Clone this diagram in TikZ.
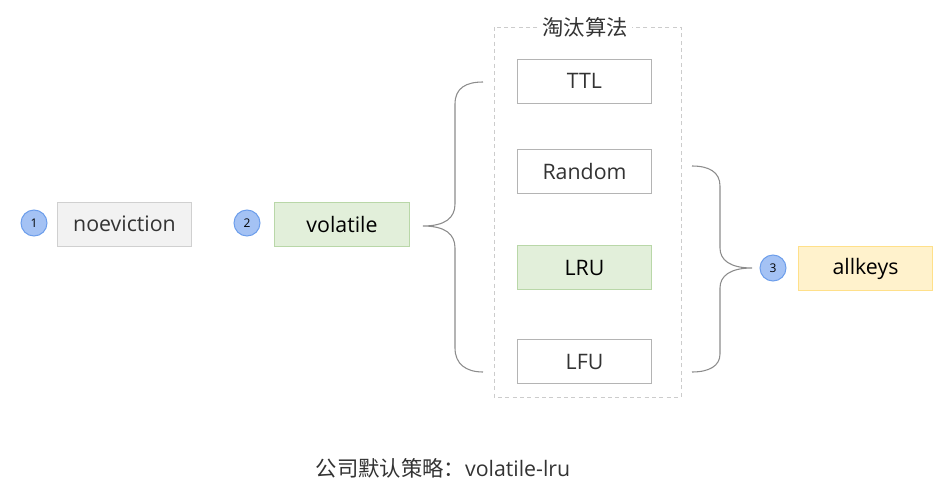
\documentclass[tikz,border=0pt]{standalone}
\usepackage{fontspec}
\setmainfont{Open Sans}
\newfontfamily\cjk{Noto Sans CJK SC}
\definecolor{txt}{HTML}{333333}
\definecolor{circfill}{HTML}{A4C2F4}
\definecolor{circdraw}{HTML}{6D9EEB}
\definecolor{grayfill}{HTML}{F2F2F2}
\definecolor{graydraw}{HTML}{D0D0D0}
\definecolor{greenfill}{HTML}{E2EFDA}
\definecolor{greendraw}{HTML}{B9D7A8}
\definecolor{yellowfill}{HTML}{FFF2CC}
\definecolor{yellowdraw}{HTML}{FFE08A}
\definecolor{boxdraw}{HTML}{B4B4B4}
\definecolor{bracecol}{HTML}{8C8C8C}
\definecolor{dashcol}{HTML}{CCCCCC}
\begin{document}
\begin{tikzpicture}[x=0.75pt,y=-0.75pt,
  numcirc/.style={circle,draw=circdraw,fill=circfill,line width=0.75pt,minimum size=19.5pt,inner sep=0pt,font=\fontsize{9}{10}\selectfont,text=black},
  algbox/.style={rectangle,draw=boxdraw,fill=white,line width=0.75pt,minimum width=101pt,minimum height=33pt,inner sep=0pt,font=\fontsize{16}{18}\selectfont,text=txt},
  graybox/.style={algbox,draw=graydraw,fill=grayfill},
  greenbox/.style={algbox,draw=greendraw,fill=greenfill,text=black},
  yellowbox/.style={algbox,draw=yellowdraw,fill=yellowfill,text=black},
  bracestyle/.style={draw=bracecol,line width=0.8pt}]
\useasboundingbox (0,0) rectangle (947,500);
% container
\draw[dashcol,dashed,dash pattern=on 3pt off 2.5pt,line width=0.75pt] (494,27) rectangle (681,397);
\node[fill=white,inner xsep=3pt,inner ysep=0pt,font=\cjk\fontsize{16}{18}\selectfont,text=txt] (title) at (585,27) {淘汰算法};
% left nodes
\node[numcirc] (c1) at (34,223) {1};
\node[graybox] (noev) at (124.5,224) {noeviction};
\node[numcirc] (c2) at (247,223) {2};
\node[greenbox] (vol) at (342,224) {volatile};
% algorithm boxes
\node[algbox] (ttl) at (584.5,81) {TTL};
\node[algbox] (rand) at (584.5,171.5) {Random};
\node[greenbox] (lru) at (584.5,267.5) {LRU};
\node[algbox] (lfu) at (584.5,361.5) {LFU};
% right
\node[numcirc] (c3) at (773,268) {3};
\node[yellowbox] (allk) at (865.5,268.5) {allkeys};
% left brace
\coordinate (lb-tip) at (423,226);
\coordinate (lb-top) at (483,82);
\coordinate (lb-bot) at (483,372);
\draw[bracestyle] (lb-top) .. controls (466,82) and (455,88) .. (455,104)
  -- (455,204) .. controls (455,218) and (445,226) .. (lb-tip)
  .. controls (445,226) and (455,234) .. (455,248)
  -- (455,348) .. controls (455,364) and (466,372) .. (lb-bot);
% right brace
\coordinate (rb-tip) at (752,268);
\coordinate (rb-top) at (692,166);
\coordinate (rb-bot) at (692,372);
\draw[bracestyle] (rb-top) .. controls (709,166) and (720,172) .. (720,186)
  -- (720,248) .. controls (720,260) and (730,268) .. (rb-tip)
  .. controls (730,268) and (720,276) .. (720,288)
  -- (720,354) .. controls (720,366) and (709,372) .. (rb-bot);
% bottom text
\node[font=\fontsize{16}{18}\selectfont,text=txt,inner sep=0pt] (note) at (443,468) {{\cjk 公司默认策略：}volatile-lru};
\end{tikzpicture}
\end{document}
